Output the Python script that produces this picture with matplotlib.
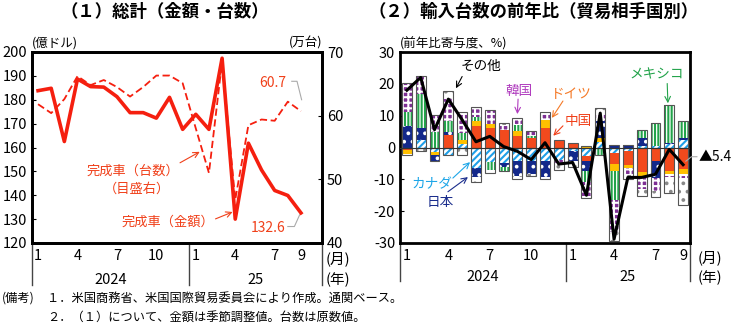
import matplotlib
matplotlib.use("Agg")
import matplotlib.pyplot as plt
import matplotlib.transforms as mtransforms
import numpy as np

plt.rcParams.update({
    "font.family": ["Noto Sans CJK JP", "DejaVu Sans"],
    "axes.unicode_minus": False,
    "hatch.linewidth": 1.5,
})

# ---- data --------------------------------------------------------------
MONTHS = list(range(21))          # 2024/1 .. 2025/9
TICK_POS = [0, 3, 6, 9, 12, 15, 18, 20]
TICK_LAB = ["1", "4", "7", "10", "1", "4", "7", "9"]
YEARS = ["2024", "25"]

# (1) completed cars: amount (100 mil. USD, left) and units (10k, right)
AMOUNT = [183.8, 184.8, 162.5, 188.7, 185.5, 185.3, 181.3, 174.6, 174.6,
          172.3, 181.0, 167.6, 173.9, 167.6, 197.4, 130.0, 161.8, 150.6,
          142.0, 139.9, 132.6]
UNITS = [61.8, 60.4, 62.6, 66.2, 64.8, 65.6, 64.5, 63.0, 64.5, 66.3, 66.3,
         65.1, 58.0, 51.0, 68.5, 46.8, 58.5, 59.4, 59.2, 62.2, 60.7]

# (2) contributions to y/y change in import units (%pt)
CANADA = [0, 2.2, -1.5, -2.5, 1.2, -6.3, -4.7, -5.0, -4.2, -4.2, -4.2, -4.0,
          -1.2, -2.7, 1.6, -1.6, -1.0, 0.4, 0.4, 1.0, 2.3]
CHINA = [-0.8, 0, 0, 4.0, 0, 6.6, 6.2, 5.6, 3.5, 3.0, 6.1, 1.9, 1.2, -1.5,
         0, -3.7, -4.5, -7.8, -4.2, -7.3, -6.8]
GERMANY = [-1.2, 0, -1.0, 0, 1.0, 1.6, 1.2, 0, 1.6, 0, 2.6, 0, 0.3, 0.4,
           1.5, -2.0, -1.0, -1.1, 0, -1.0, -1.6]
JAPAN = [6.6, 3.9, -1.8, 1.0, 0, -3.1, 0, -1.0, -4.7, -4.2, -5.0, 0.6, -3.0,
         -3.1, 5.2, 0.8, 0.8, 2.6, -5.5, 0.5, 0.7]
MEXICO = [4.5, 10.8, 5.0, 3.3, 2.5, 1.5, -2.4, -1.3, 2.0, 0.5, 0, 0, 0, -3.6,
          -2.2, -9.3, 0, 2.6, 7.2, 11.8, 5.2]
KOREA = [9.1, 5.7, 5.2, 7.0, 6.5, 3.1, 4.4, 1.4, 2.1, 1.8, 2.5, -1.3, 0,
         -4.2, 2.5, -9.8, -2.2, -4.1, -4.0, -1.0, -1.3]
OTHER = [-0.3, -1.0, 0, 2.3, -2.5, -1.5, -0.8, 0.8, -1.0, -0.7, -0.8, -1.8,
         -2.0, -0.8, 1.6, -3.1, -1.3, -2.1, -1.8, -5.0, -8.5]
TOTAL = [18.0, 22.0, 5.6, 15.2, 8.7, 1.8, 3.5, 0.3, -1.2, -3.8, 1.5, -5.2,
         -4.7, -15.0, 10.8, -28.8, -9.4, -9.4, -8.4, -0.6, -5.4]

SERIES = [("カナダ", CANADA), ("中国", CHINA), ("ドイツ", GERMANY),
          ("日本", JAPAN), ("メキシコ", MEXICO), ("韓国", KOREA),
          ("その他", OTHER)]

# face colour, hatch, hatch colour
STYLE = {
    "カナダ": ("white", "/////", "#1f9fe8"),
    "中国": ("#f24a1d", None, "#f24a1d"),
    "ドイツ": ("#ffc000", None, "#ffc000"),
    "日本": ("#13288a", "..", "white"),
    "メキシコ": ("white", "|||||", "#22a34a"),
    "韓国": ("#7d2f93", "+++", "white"),
    "その他": ("white", "..", "#888888"),
}

RED = "#f51f0f"
ORANGE_RED = "#f0401a"

fig = plt.figure(figsize=(7.33, 3.24), dpi=100)
ax_l = fig.add_axes([32 / 733, 81 / 324, 290 / 733, 191 / 324])
ax_r = fig.add_axes([400 / 733, 81 / 324, 290 / 733, 191 / 324])


def style_axes(ax, xlim, sep, month_y, year_y, line_y, unit_x):
    ax.set_xlim(*xlim)
    for s in ax.spines.values():
        s.set_linewidth(2.0)
    ax.set_xticks(TICK_POS)
    ax.set_xticklabels(TICK_LAB)
    ax.tick_params(axis="x", length=0, pad=4, labelsize=10.5)
    ax.tick_params(axis="y", direction="in", length=3, labelsize=10.5)
    tr = mtransforms.blended_transform_factory(ax.transData, ax.transAxes)
    for xs in (xlim[0], sep, xlim[1]):
        ax.plot([xs, xs], [0, line_y], transform=tr, color="#444444",
                lw=1.0, clip_on=False)
    ax.text((xlim[0] + sep) / 2, year_y, YEARS[0], transform=tr,
            ha="center", va="center", fontsize=10.5)
    ax.text((sep + xlim[1]) / 2, year_y, YEARS[1], transform=tr,
            ha="center", va="center", fontsize=10.5)
    ax.text(unit_x, month_y, "(月)", transform=ax.transAxes,
            ha="center", va="center", fontsize=10.5)
    ax.text(unit_x, year_y, "(年)", transform=ax.transAxes,
            ha="center", va="center", fontsize=10.5)


# ── (1) left panel ─────────────────────────────────────────────
x = np.array(MONTHS)
ax_l.plot(x, AMOUNT, color=RED, lw=2.6, zorder=3)
ax_l.set_ylim(120, 200)
ax_l.set_yticks(range(120, 201, 10))
style_axes(ax_l, (-0.46, 21.6), 11.5, -0.085, -0.195, -0.22, 1.055)

ax_l2 = ax_l.twinx()
ax_l2.plot(x, UNITS, color=RED, lw=1.3, ls=(0, (4, 2)), zorder=3)
ax_l2.set_ylim(40, 70)
ax_l2.set_yticks([40, 50, 60, 70])
ax_l2.tick_params(axis="y", direction="in", length=3, labelsize=10.5)
for s in ax_l2.spines.values():
    s.set_linewidth(2.0)

ax_l.text(0.0, 1.045, "(億ドル)", transform=ax_l.transAxes, ha="left",
          va="center", fontsize=9)
ax_l.text(1.0, 1.045, "(万台)", transform=ax_l.transAxes, ha="right",
          va="center", fontsize=9)

ax_l2.text(18.9, 65.1, f"{UNITS[-1]:.1f}", color=ORANGE_RED, ha="right",
           va="center", fontsize=10)
ax_l2.plot([19.3, 19.7, 20.05], [65.4, 65.4, 62.5], color="#aaaaaa", lw=0.8)
ax_l.text(18.8, 126.4, f"{AMOUNT[-1]:.1f}", color=ORANGE_RED, ha="right",
          va="center", fontsize=10)
ax_l.plot([19.0, 19.5, 19.9], [126.9, 126.9, 131.8], color="#aaaaaa",
          lw=0.8, clip_on=False)

ax_l.text(7.2, 150.2, "完成車（台数）", color=ORANGE_RED, ha="center",
          va="center", fontsize=9.5)
ax_l.text(7.5, 142.7, "（目盛右）", color=ORANGE_RED, ha="center",
          va="center", fontsize=9.5)
ax_l.annotate("", xy=(12.3, 158.2), xytext=(10.8, 153.6),
              arrowprops=dict(arrowstyle="->", color=ORANGE_RED, lw=0.8,
                              shrinkA=0, shrinkB=0))
ax_l.text(9.9, 128.9, "完成車（金額）", color=ORANGE_RED, ha="center",
          va="center", fontsize=9.5)
ax_l.annotate("", xy=(14.8, 133.0), xytext=(13.5, 130.1),
              arrowprops=dict(arrowstyle="->", color=ORANGE_RED, lw=0.8,
                              shrinkA=0, shrinkB=0))

# ── (2) right panel ────────────────────────────────────────────
w = 0.72
pos_base = np.zeros(len(MONTHS))
neg_base = np.zeros(len(MONTHS))
for name, vals in SERIES:
    v = np.array(vals, dtype=float)
    fc, hatch, hc = STYLE[name]
    for part, base in ((np.where(v > 0, v, 0), pos_base),
                       (np.where(v < 0, v, 0), neg_base)):
        m = part != 0
        if m.any():
            ax_r.bar(x[m], part[m], bottom=base[m], width=w, color=fc,
                     hatch=hatch, edgecolor=hc, linewidth=0, zorder=2)
    pos_base += np.where(v > 0, v, 0)
    neg_base += np.where(v < 0, v, 0)
for tot in (pos_base, neg_base):
    m = tot != 0
    ax_r.bar(x[m], tot[m], width=w, fill=False, edgecolor="#555555",
             linewidth=0.8, zorder=3)

ax_r.axhline(0, color="#333333", lw=0.8, zorder=3)
ax_r.plot(x, TOTAL, color="black", lw=2.2, zorder=4)
ax_r.set_ylim(-30, 30)
ax_r.set_yticks(range(-30, 31, 10))
style_axes(ax_r, (-0.5, 20.5), 11.5, -0.08, -0.18, -0.2, 1.07)
ax_r.text(0.0, 1.045, "(前年比寄与度、%)", transform=ax_r.transAxes,
          ha="left", va="center", fontsize=9)

ax_r.text(21.1, -3.1, "▲5.4", ha="left", va="center", fontsize=10,
          clip_on=False)
ax_r.plot([21.0, 20.6, 20.2], [-2.9, -2.9, -4.3], color="#aaaaaa", lw=0.8,
          clip_on=False, zorder=5)

LABELS = [
    ("その他", "black", (5.4, 25.7), (4.0, 22.3), (3.55, 18.6)),
    ("韓国", "#b03cbe", (8.1, 17.6), (8.05, 15.2), (8.0, 10.5)),
    ("ドイツ", "#f57a28", (11.9, 16.7), (11.3, 14.6), (10.5, 9.3)),
    ("中国", "#f0401a", (12.4, 8.4), (11.3, 6.8), (10.6, 3.7)),
    ("メキシコ", "#22a34a", (18.1, 22.9), (18.85, 20.1), (18.9, 13.9)),
    ("カナダ", "#1ea6e8", (1.8, -11.5), (3.33, -9.6), (4.57, -4.6)),
    ("日本", "#1a2d8c", (2.4, -17.0), (2.97, -13.9), (4.42, -9.3)),
]
for txt, col, tpos, tail, tip in LABELS:
    ax_r.text(*tpos, txt, color=col, ha="center", va="center",
              fontsize=9.8, zorder=6)
    ax_r.annotate("", xy=tip, xytext=tail, zorder=6,
                  arrowprops=dict(arrowstyle="->", color=col, lw=0.8,
                                  shrinkA=0, shrinkB=0))

# ── titles & notes ─────────────────────────────────────────────
fig.text(0.225, 0.963, "（１）総計（金額・台数）", ha="center", va="center",
         fontsize=12.5, fontweight="bold")
fig.text(0.728, 0.963, "（２）輸入台数の前年比（貿易相手国別）", ha="center",
         va="center", fontsize=12.5, fontweight="bold")

fig.text(2 / 733, 0.080, "(備考)", ha="left", va="center", fontsize=8.8)
fig.text(47 / 733, 0.080,
         "１．米国商務省、米国国際貿易委員会により作成。通関ベース。",
         ha="left", va="center", fontsize=8.8)
fig.text(47 / 733, 0.022,
         "２．（１）について、金額は季節調整値。台数は原数値。",
         ha="left", va="center", fontsize=8.8)

fig.savefig("out.png", dpi=100)
